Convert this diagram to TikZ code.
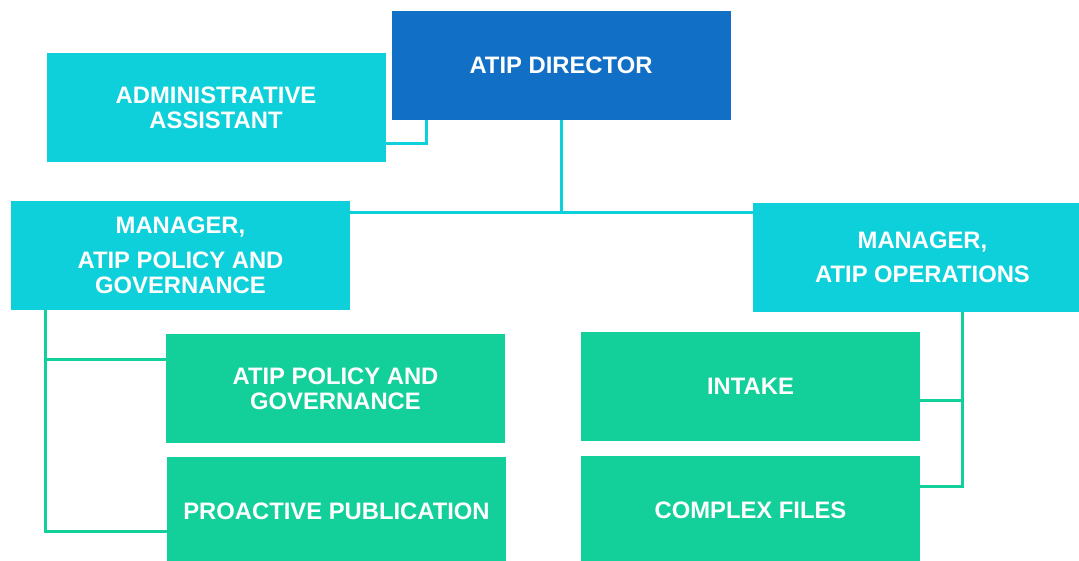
\documentclass[tikz,border=0pt]{standalone}
\usepackage{fontspec}
\setmainfont{Liberation Sans}
\definecolor{dirblue}{HTML}{116FC6}
\definecolor{mgrcyan}{HTML}{0ED0DA}
\definecolor{teamgreen}{HTML}{13D09B}
\begin{document}
\begin{tikzpicture}[x=1pt,y=-1pt,
  box/.style={minimum width=339pt,minimum height=109pt,inner sep=0pt,align=center,
    text=white,font=\fontsize{23.8}{25}\selectfont\bfseries},
  dirbox/.style={box,fill=dirblue},
  mgrbox/.style={box,fill=mgrcyan},
  teambox/.style={box,fill=teamgreen},
  cline/.style={draw=mgrcyan,line width=3pt},
  gline/.style={draw=teamgreen,line width=3pt}]
\useasboundingbox (0,0) rectangle (1079,560);
\clip (0,0) rectangle (1079,560);
\fill[white] (0,0) rectangle (1079,560);
% nodes
\node[dirbox] (dir) at (561,65.5) {ATIP DIRECTOR};
\node[mgrbox] (admin) at (216,107.5) {ADMINISTRATIVE\\ASSISTANT};
\node[mgrbox] (mgr1) at (180.5,255.5) {MANAGER,\\[10pt]ATIP POLICY AND\\GOVERNANCE};
\node[mgrbox] (mgr2) at (922.5,257.5) {MANAGER,\\[9pt]ATIP OPERATIONS};
\node[teambox] (pol) at (335.5,388.5) {ATIP POLICY AND\\GOVERNANCE};
\node[teambox] (pub) at (336.5,511.5) {PROACTIVE PUBLICATION};
\node[teambox] (intake) at (750.5,386.5) {INTAKE};
\node[teambox] (complex) at (750.5,510.5) {COMPLEX FILES};
% connector helper coordinates
\coordinate (hub) at (561,212);
\coordinate (lbus) at (45,0);
\coordinate (rbus) at (962.5,0);
\coordinate (polin) at ([yshift=29.5pt]pol.west);
\coordinate (pubin) at ([yshift=-19.5pt]pub.west);
\coordinate (intin) at ([yshift=-13.5pt]intake.east);
\coordinate (cfin) at ([yshift=24.5pt]complex.east);
% connectors
\draw[cline] ([yshift=19pt]admin.south east) -| ([xshift=35pt]dir.south west);
\draw[cline] (dir.south) -- (hub);
\draw[cline] (mgr1.east |- hub) -- (mgr2.west |- hub);
\draw[gline] (lbus |- mgr1.south) |- (pubin);
\draw[gline] (lbus |- polin) -- (polin);
\draw[gline] (rbus |- mgr2.south) |- (cfin);
\draw[gline] (intin) -- (rbus |- intin);
\end{tikzpicture}
\end{document}
